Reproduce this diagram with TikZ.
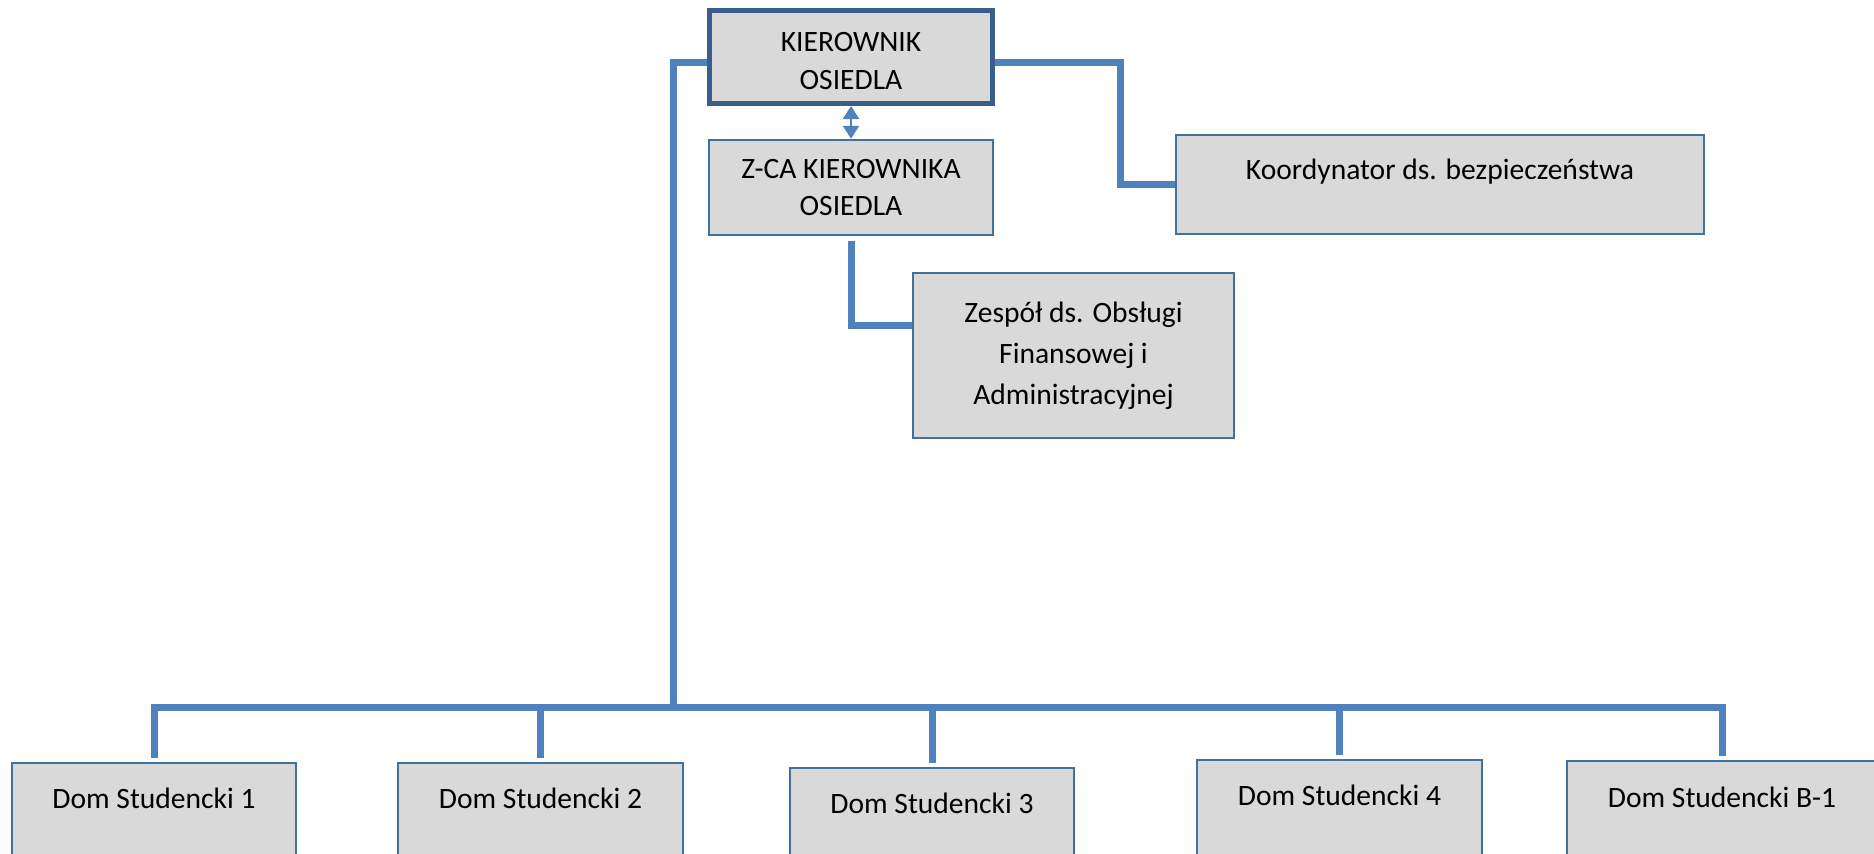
\documentclass[tikz,border=0pt]{standalone}
\usepackage{fontspec}
\setmainfont{Carlito}
\usetikzlibrary{arrows.meta,calc}
\definecolor{linkblue}{RGB}{79,129,189}
\definecolor{boxline}{RGB}{65,113,156}
\definecolor{chiefline}{RGB}{56,93,138}
\definecolor{boxfill}{RGB}{217,217,217}
\tikzset{
  box/.style={draw=boxline,fill=boxfill,line width=0.7pt,inner sep=0pt,align=center,font=\fontsize{8.4}{10.6}\selectfont},
  chief/.style={box,draw=chiefline,line width=1.4pt},
  txt/.style={align=center,inner sep=0pt,font=\fontsize{8.4}{11.4}\selectfont},
  link/.style={draw=linkblue,line width=0.07cm},
  twoway/.style={draw=linkblue,line width=0.7pt,{Triangle[length=0.13cm,width=0.16cm]}-{Triangle[length=0.13cm,width=0.16cm]}}
}
\begin{document}
\begin{tikzpicture}[x=0.01cm,y=-0.01cm]
\clip (0,0) rectangle (1874,853);
% upper boxes
\node[chief,minimum width=2.83cm,minimum height=0.93cm] (kier) at (851,57) {};
\node[txt,font=\fontsize{8.4}{10.8}\selectfont] (kiert) at ([yshift=-0.04cm]kier.center) {KIEROWNIK\\OSIEDLA};
\node[box,minimum width=2.84cm,minimum height=0.95cm] (zca) at (851,187.5) {Z-CA KIEROWNIKA\\OSIEDLA};
\node[box,minimum width=5.28cm,minimum height=0.99cm] (koord) at (1440,184.5) {};
\node[txt] (koordt) at ([yshift=-0.38cm]koord.north) {Koordynator ds. bezpieczeństwa};
\node[box,minimum width=3.21cm,minimum height=1.65cm,font=\fontsize{8.4}{11.6}\selectfont] (zesp) at (1073.5,355.5) {Zespół ds. Obsługi\\Finansowej i\\Administracyjnej};
% dormitories
\node[box,anchor=north,minimum width=2.84cm,minimum height=1.2cm] (ds1) at (154,762) {};
\node[box,anchor=north,minimum width=2.85cm,minimum height=1.2cm] (ds2) at (540.5,762) {};
\node[box,anchor=north,minimum width=2.84cm,minimum height=1.2cm] (ds3) at (932,767) {};
\node[box,anchor=north,minimum width=2.85cm,minimum height=1.2cm] (ds4) at (1339.5,759) {};
\node[box,anchor=north,minimum width=3.1cm,minimum height=1.2cm] (ds5) at (1722,760) {};
\node[txt] (ds1t) at ([yshift=-0.36cm]ds1.north) {Dom Studencki 1};
\node[txt] (ds2t) at ([yshift=-0.36cm]ds2.north) {Dom Studencki 2};
\node[txt] (ds3t) at ([yshift=-0.36cm]ds3.north) {Dom Studencki 3};
\node[txt] (ds4t) at ([yshift=-0.36cm]ds4.north) {Dom Studencki 4};
\node[txt] (ds5t) at ([yshift=-0.37cm]ds5.north) {Dom Studencki B-1};
% connectors
\coordinate (bus) at (673,707);
\coordinate (rj) at (1120,120);
\draw[twoway] (kier.south) -- (zca.north);
\draw[link] ([yshift=-0.05cm]kier.west) -| (bus);
\draw[link] ([yshift=-0.05cm]kier.east) -| (rj) |- (koord.west);
\draw[link] ([yshift=-0.05cm]zca.south) |- ([yshift=0.3cm]zesp.west);
\draw[link,shorten <=0.04cm,shorten >=0.04cm] (ds1.north) -- (ds1.north |- bus) -- (ds5.north |- bus) -- (ds5.north);
\foreach \d in {ds2,ds3,ds4}
  \draw[link,shorten >=0.04cm] (\d.north |- bus) -- (\d.north);
\end{tikzpicture}
\end{document}
